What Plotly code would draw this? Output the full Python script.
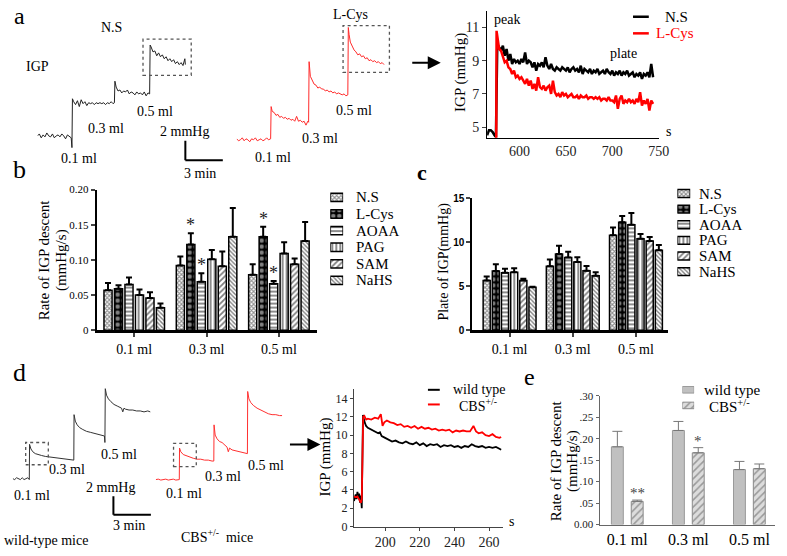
import plotly.graph_objects as go

W, H = 787, 556
SERIF = "Times New Roman, Liberation Serif, DejaVu Serif, serif"
SANS = "Arial, Liberation Sans, DejaVu Sans, sans-serif"

# ---------------- DATA ----------------
# panel a, raw traces (time in min, IGP in mmHg)
A_NS_TRACE = [(0, 0.4), (0.15, 0.6), (0.3, 0.2), (0.45, 0.5), (0.6, 0.3), (0.75, 0.7), (0.9, 0.4), (1.05, 0.3),
              (1.2, 0.6), (1.35, 0.2), (1.5, 0.4), (1.65, 0.5), (1.8, 0.3), (1.95, 0.6), (2.1, 0.4), (2.25, 0.1),
              (2.4, 0.5), (2.55, 0.3), (2.7, 0.2), (2.76, -0.8), (2.8, 4.2), (2.9, 3.9), (3.05, 3.6), (3.2, 4.0),
              (3.35, 3.4), (3.5, 4.1), (3.65, 3.7), (3.8, 3.9), (3.95, 3.5), (4.1, 3.8), (4.25, 3.7), (4.4, 3.8),
              (4.55, 3.6), (4.7, 3.8), (4.85, 3.7), (5.0, 3.8), (5.15, 3.7), (5.3, 3.8), (5.45, 3.6), (5.6, 3.8),
              (5.75, 3.7), (5.9, 3.9), (6.05, 3.7), (6.16, 3.8), (6.2, 6.0), (6.3, 5.4), (6.45, 5.0), (6.6, 5.1),
              (6.75, 4.8), (6.9, 5.0), (7.05, 4.9), (7.2, 5.1), (7.35, 4.7), (7.5, 4.9), (7.65, 4.8), (7.8, 4.6),
              (7.95, 4.9), (8.1, 4.7), (8.25, 4.8), (8.4, 4.6), (8.55, 4.9), (8.7, 4.5), (8.85, 4.8), (8.98, 4.7),
              (9.02, 9.7), (9.1, 9.5), (9.25, 9.0), (9.4, 9.1), (9.55, 8.6), (9.7, 8.9), (9.85, 8.5), (10.0, 8.7),
              (10.15, 8.3), (10.3, 8.5), (10.45, 8.1), (10.6, 8.3), (10.75, 8.0), (10.9, 8.2), (11.05, 7.8),
              (11.2, 8.0), (11.35, 7.7), (11.5, 7.9), (11.65, 7.6), (11.8, 8.3), (11.84, 7.7)]
A_LCYS_TRACE = [(0, 0.1), (0.15, -0.1), (0.3, 0.0), (0.45, 0.2), (0.6, -0.1), (0.75, 0.1), (0.9, 0.0), (1.05, -0.2),
                (1.2, 0.1), (1.35, 0.0), (1.5, 0.2), (1.65, -0.1), (1.8, 0.0), (1.95, 0.1), (2.1, -0.1), (2.25, 0.0),
                (2.4, 0.2), (2.55, 0.0), (2.72, 0.1), (2.76, 3.4), (2.85, 2.9), (3.0, 2.8), (3.15, 2.5), (3.3, 2.6),
                (3.45, 2.3), (3.6, 2.4), (3.75, 2.2), (3.9, 2.3), (4.05, 2.1), (4.2, 2.2), (4.35, 2.0), (4.5, 2.1),
                (4.65, 1.9), (4.8, 2.4), (4.95, 1.9), (5.1, 2.0), (5.25, 1.8), (5.4, 1.9), (5.55, 1.5), (5.7, 1.9),
                (5.76, 1.8), (5.8, 8.0), (5.9, 6.5), (6.05, 6.0), (6.2, 5.7), (6.35, 5.6), (6.5, 5.3), (6.65, 5.4),
                (6.8, 5.2), (6.95, 5.2), (7.1, 5.0), (7.25, 5.1), (7.4, 4.9), (7.55, 5.0), (7.7, 4.8), (7.85, 4.9),
                (8.0, 4.7), (8.15, 4.8), (8.3, 4.7), (8.45, 4.6), (8.6, 4.7), (8.75, 4.5), (8.9, 4.6), (8.94, 11.5),
                (9.0, 10.8), (9.1, 10.0), (9.25, 9.6), (9.4, 9.2), (9.55, 9.0), (9.7, 8.7), (9.85, 8.8), (10.0, 8.5),
                (10.15, 8.6), (10.3, 8.3), (10.45, 8.4), (10.6, 8.1), (10.75, 8.2), (10.9, 8.0), (11.05, 8.1),
                (11.2, 7.9), (11.35, 8.0), (11.5, 7.8), (11.65, 7.9), (11.8, 7.7)]

# panel a, zoomed recording (time in s, IGP in mmHg)
A_NS_T = [565, 567, 569, 571, 573, 574.5, 576,
          578, 580, 582, 584, 586, 588, 590, 592, 594, 596,
          598, 600, 602, 604, 606, 608, 610, 612, 614, 616,
          618, 620, 622, 624, 626, 628, 630, 632, 634, 636,
          638, 640, 642, 644, 646, 648, 650, 652, 654, 656,
          658, 660, 662, 664, 666, 668, 670, 672, 674, 676,
          678, 680, 682, 684, 686, 688, 690, 692, 694, 696,
          698, 700, 702, 704, 706, 708, 710, 712, 714, 716,
          718, 720, 722, 724, 726, 728, 730, 732, 734, 736,
          738, 740, 742, 744]
A_NS_P = [4.5, 4.8, 4.8, 4.7, 4.5, 4.4, 10.0,
          9.8, 9.6, 9.9, 9.3, 9.7, 9.0, 9.4, 8.8, 9.1, 8.9,
          9.0, 8.8, 9.1, 8.9, 9.5, 8.8, 9.0, 8.9, 8.6, 8.9,
          8.4, 8.8, 8.7, 8.9, 8.6, 9.2, 8.7, 8.5, 8.8, 8.5,
          8.4, 8.6, 8.5, 8.4, 8.6, 8.5, 8.4, 8.6, 8.3, 8.5,
          8.6, 8.4, 8.5, 8.3, 8.7, 8.2, 8.5, 8.4, 8.3, 8.5,
          8.2, 8.4, 8.3, 8.5, 8.2, 8.3, 8.4, 8.2, 8.5, 8.3,
          8.2, 8.4, 8.1, 8.3, 8.2, 8.4, 8.1, 8.3, 8.2, 8.4,
          8.1, 8.2, 8.3, 8.0, 8.2, 8.1, 8.3, 7.9, 8.2, 8.1,
          8.3, 8.0, 8.8, 8.0]
A_LCYS_T = [573, 574.8, 575.2, 576, 577, 578,
            580, 582, 584, 586, 588, 590, 592, 594, 596, 598,
            600, 602, 604, 606, 608, 610, 612, 614, 616, 618,
            620, 622, 624, 626, 628, 630, 632, 634, 636, 638,
            640, 642, 644, 646, 648, 650, 652, 654, 656, 658,
            660, 662, 664, 666, 668, 670, 672, 674, 676, 678,
            680, 682, 684, 686, 688, 690, 692, 694, 696, 698,
            700, 702, 704, 706, 708, 710, 712, 714, 716, 718,
            720, 722, 724, 726, 728, 730, 732, 734, 736, 738,
            740, 742, 744]
A_LCYS_P = [3.0, 3.0, 10.8, 10.4, 10.0, 9.7,
            9.6, 9.3, 8.9, 9.0, 8.6, 8.5, 8.2, 8.4, 8.0, 8.1,
            7.9, 8.0, 7.8, 7.6, 7.9, 7.5, 7.8, 7.3, 7.6, 7.2,
            8.0, 7.4, 7.3, 7.5, 7.2, 7.4, 7.5, 7.0, 7.8, 7.1,
            6.9, 7.0, 6.8, 7.1, 6.9, 7.0, 6.8, 6.9, 7.0, 6.8,
            6.8, 6.9, 6.7, 6.9, 6.8, 6.8, 6.9, 6.7, 6.8, 6.8,
            6.7, 6.8, 6.7, 6.8, 6.6, 6.7, 6.7, 6.6, 6.8, 6.6,
            6.6, 6.5, 6.9, 6.1, 6.7, 6.9, 6.4, 6.6, 6.5, 6.7,
            6.5, 6.6, 6.4, 6.7, 6.5, 7.1, 6.3, 6.6, 6.4, 6.7,
            6.0, 6.6, 6.4]

# panel b: rate of IGP descent (mmHg/s), mean and +SEM
GROUPS = ["0.1 ml", "0.3 ml", "0.5 ml"]
SERIES = ["N.S", "L-Cys", "AOAA", "PAG", "SAM", "NaHS"]
B_NS = [0.057, 0.092, 0.079]
B_LCYS = [0.059, 0.122, 0.133]
B_AOAA = [0.065, 0.069, 0.066]
B_PAG = [0.050, 0.101, 0.109]
B_SAM = [0.046, 0.091, 0.094]
B_NAHS = [0.032, 0.133, 0.127]
B_NS_ERR = [0.010, 0.013, 0.015]
B_LCYS_ERR = [0.005, 0.016, 0.014]
B_AOAA_ERR = [0.010, 0.012, 0.004]
B_PAG_ERR = [0.008, 0.013, 0.016]
B_SAM_ERR = [0.008, 0.021, 0.008]
B_NAHS_ERR = [0.006, 0.041, 0.027]
B_STARS = [("L-Cys", 1), ("AOAA", 1), ("L-Cys", 2), ("AOAA", 2)]

# panel c: plate of IGP (mmHg)
C_NS = [5.66, 7.28, 10.8]
C_LCYS = [6.73, 8.68, 12.28]
C_AOAA = [6.54, 8.27, 11.99]
C_PAG = [6.60, 7.76, 10.40]
C_SAM = [5.66, 6.76, 10.15]
C_NAHS = [4.90, 6.20, 9.10]
C_NS_ERR = [0.45, 0.77, 0.90]
C_LCYS_ERR = [0.77, 0.92, 0.72]
C_AOAA_ERR = [0.46, 0.66, 1.36]
C_PAG_ERR = [0.46, 0.54, 0.56]
C_SAM_ERR = [0.19, 0.54, 0.45]
C_NAHS_ERR = [0.05, 0.40, 0.60]

# panel d, raw traces (time in min, IGP in mmHg)
D_WT_TRACE = [(0, 3.0), (0.15, 2.9), (0.3, 3.1), (0.45, 3.0), (0.6, 2.9), (0.75, 3.1), (0.9, 2.9), (1.05, 3.0),
              (1.2, 3.1), (1.32, 2.9), (1.34, 6.7), (1.45, 6.2), (1.6, 5.9), (1.8, 5.7), (2.0, 5.6), (2.3, 5.5),
              (2.6, 5.4), (2.9, 5.35), (3.2, 5.3), (3.5, 5.2), (3.8, 5.2), (4.1, 5.1), (4.4, 5.1), (4.7, 5.0),
              (4.88, 5.0), (4.9, 9.9), (5.0, 9.2), (5.15, 8.8), (5.35, 8.5), (5.6, 8.3), (5.9, 8.1), (6.2, 8.0),
              (6.5, 7.9), (6.8, 7.8), (7.1, 7.7), (7.33, 7.6), (7.37, 6.9), (7.4, 12.7), (7.5, 12.0), (7.65, 11.6),
              (7.85, 11.3), (8.1, 11.0), (8.4, 10.8), (8.7, 10.6), (8.8, 10.2), (8.9, 10.6), (9.0, 10.5),
              (9.3, 10.4), (9.6, 10.4), (9.9, 10.3), (10.2, 10.3), (10.5, 10.2), (10.8, 10.3), (11.0, 10.2)]
D_CBS_TRACE = [(0, 2.9), (0.2, 2.95), (0.4, 2.85), (0.6, 2.9), (0.8, 2.95), (1.0, 2.85), (1.2, 2.9), (1.4, 2.95),
               (1.6, 2.85), (1.88, 2.9), (1.9, 6.3), (2.0, 5.9), (2.2, 5.6), (2.4, 5.5), (2.7, 5.3), (3.0, 5.2),
               (3.3, 5.1), (3.6, 5.1), (3.9, 5.0), (4.2, 5.0), (4.5, 4.9), (4.64, 4.9), (4.66, 8.8), (4.75, 7.7),
               (4.9, 7.3), (5.1, 7.0), (5.3, 6.9), (5.5, 6.6), (5.7, 6.4), (5.8, 5.9), (5.9, 6.3), (6.1, 6.1),
               (6.4, 6.0), (6.7, 5.9), (7.0, 5.8), (7.33, 5.7), (7.35, 12.4), (7.45, 11.6), (7.6, 11.2),
               (7.8, 10.9), (8.1, 10.6), (8.4, 10.4), (8.7, 10.2), (9.0, 10.0), (9.3, 9.9), (9.6, 9.9),
               (9.9, 9.8), (10.1, 9.8)]

# panel d, zoomed recording (time in s, IGP in mmHg)
D_WT_T = [182, 183, 183.5, 184, 184.5, 185, 185.5, 186, 186.5, 187.2,
          188, 189, 190, 192, 194, 196, 197, 198, 200, 202,
          204, 206, 208, 210, 212, 214, 216, 218, 220, 222,
          224, 226, 228, 230, 232, 234, 236, 238, 240, 242,
          244, 246, 248, 250, 252, 254, 256, 258, 260, 262,
          264, 266, 267]
D_WT_P = [2.8, 3.5, 3.0, 3.8, 3.2, 3.6, 2.6, 3.4, 2.0, 12.2,
          11.5, 11.0, 10.8, 10.6, 10.4, 10.2, 10.3, 9.9, 9.7, 9.5,
          9.3, 9.4, 9.2, 9.1, 9.3, 9.1, 9.0, 9.2, 8.9, 9.1,
          8.8, 9.0, 8.9, 9.0, 8.7, 8.9, 8.8, 8.9, 8.7, 8.8,
          8.6, 8.8, 8.7, 9.0, 8.8, 8.7, 8.8, 8.6, 8.7, 8.6,
          8.7, 8.5, 8.4]
D_CBS_T = [182, 183, 184, 185, 186, 186.5, 187.3, 188, 189, 190,
           192, 194, 196, 197.5, 198.5, 199.5, 201, 203, 205, 207,
           209, 211, 213, 215, 217, 219, 221, 223, 225, 227,
           229, 231, 233, 235, 237, 239, 241, 243, 245, 247,
           249, 251, 252.5, 254, 256, 258, 260, 262, 264, 266,
           267]
D_CBS_P = [3.3, 3.2, 3.3, 2.9, 2.6, 3.0, 12.0, 12.1, 11.7, 11.8,
           11.7, 11.9, 11.8, 12.3, 11.0, 11.4, 11.6, 11.4, 11.3, 11.1,
           11.2, 10.9, 11.0, 10.8, 11.0, 10.7, 10.9, 10.7, 10.8, 10.6,
           10.7, 10.5, 10.6, 10.5, 10.6, 10.3, 10.5, 10.4, 10.5, 10.4,
           10.4, 11.0, 10.4, 10.2, 10.3, 10.0, 9.9, 10.1, 9.8, 9.7,
           9.8]

# panel e: rate of IGP descent (mmHg/s)
E_GROUPS = ["wild type", "CBS<sup>+/-</sup>"]
E_WT = [0.181, 0.219, 0.128]
E_CBS = [0.054, 0.167, 0.130]
E_WT_ERR = [0.036, 0.021, 0.019]
E_CBS_ERR = [0.003, 0.012, 0.011]

SCALE_MIN, SCALE_MMHG = 3, 2

# ---------------- helpers ----------------
def xd(l, r):
    return [l / W, r / W]

def yd(t, b):
    return [1 - b / H, 1 - t / H]

def PX(x):
    return x / W

def PY(y):
    return 1 - y / H

fig = go.Figure()

def line(pairs, color, xa, ya, width=1):
    fig.add_trace(go.Scatter(x=[p[0] for p in pairs], y=[p[1] for p in pairs], mode="lines",
                             line=dict(color=color, width=width), xaxis=xa, yaxis=ya,
                             showlegend=False, hoverinfo="skip"))

# traces panel a
line(A_NS_TRACE, "#222222", "x6", "y6", 1)
line(A_LCYS_TRACE, "#ff2a2a", "x7", "y6", 1)
# traces panel d
line(D_WT_TRACE, "#333333", "x8", "y8", 1)
line(D_CBS_TRACE, "#ff3030", "x9", "y8", 1)

# a zoom chart
fig.add_trace(go.Scatter(x=A_NS_T, y=A_NS_P, mode="lines", line=dict(color="black", width=2.5),
                         xaxis="x", yaxis="y", showlegend=False))
fig.add_trace(go.Scatter(x=A_LCYS_T, y=A_LCYS_P, mode="lines", line=dict(color="#ff0000", width=2.5),
                         xaxis="x", yaxis="y", showlegend=False))
# d zoom chart
fig.add_trace(go.Scatter(x=D_WT_T, y=D_WT_P, mode="lines", line=dict(color="black", width=1.8),
                         xaxis="x4", yaxis="y4", showlegend=False))
fig.add_trace(go.Scatter(x=D_CBS_T, y=D_CBS_P, mode="lines", line=dict(color="#ff0000", width=1.8),
                         xaxis="x4", yaxis="y4", showlegend=False))

PATTERNS = [
    dict(shape="x", size=3, solidity=0.6, fgcolor="#222", bgcolor="white"),
    dict(shape=".", size=6, solidity=0.45, fgcolor="white", bgcolor="black"),
    dict(shape="-", size=4, solidity=0.45, fgcolor="black", bgcolor="white"),
    dict(shape="|", size=4, solidity=0.45, fgcolor="black", bgcolor="white"),
    dict(shape="/", size=4, solidity=0.45, fgcolor="black", bgcolor="white"),
    dict(shape="\\", size=3, solidity=0.45, fgcolor="black", bgcolor="white"),
]
SLOT, BW = 0.145, 0.112

def offset_of(i):
    return (i - 3) * SLOT + (SLOT - BW) / 2

B_VALS = [B_NS, B_LCYS, B_AOAA, B_PAG, B_SAM, B_NAHS]
B_ERRS = [B_NS_ERR, B_LCYS_ERR, B_AOAA_ERR, B_PAG_ERR, B_SAM_ERR, B_NAHS_ERR]
C_VALS = [C_NS, C_LCYS, C_AOAA, C_PAG, C_SAM, C_NAHS]
C_ERRS = [C_NS_ERR, C_LCYS_ERR, C_AOAA_ERR, C_PAG_ERR, C_SAM_ERR, C_NAHS_ERR]

for i, name in enumerate(SERIES):
    for vals, errs, xa, ya in [(B_VALS[i], B_ERRS[i], "x2", "y2"), (C_VALS[i], C_ERRS[i], "x3", "y3")]:
        fig.add_trace(go.Bar(
            x=GROUPS, y=vals, name=name, xaxis=xa, yaxis=ya, showlegend=False,
            width=BW, offset=offset_of(i),
            marker=dict(pattern=PATTERNS[i], color="white", line=dict(color="black", width=1.5)),
            error_y=dict(type="data", symmetric=False, array=errs, arrayminus=[0, 0, 0],
                         color="black", thickness=2, width=3),
        ))
    # legend keys (one swatch per series, for panels b and c)
    for xa, ya in [("x10", "y10"), ("x11", "y11")]:
        fig.add_trace(go.Bar(x=[1], y=[name], orientation="h", xaxis=xa, yaxis=ya, width=0.5,
                             showlegend=False, hoverinfo="skip",
                             marker=dict(pattern=PATTERNS[i], color="white",
                                         line=dict(color="black", width=1.5))))

EW = 0.195
E_WT_MARKER = dict(color="#c0c0c0", line=dict(color="#9a9a9a", width=1))
E_CBS_MARKER = dict(color="#d9d9d9",
                    pattern=dict(shape="/", size=5, solidity=0.3, fgcolor="#555555", bgcolor="#dcdcdc"),
                    line=dict(color="#8a8a8a", width=1))
fig.add_trace(go.Bar(x=GROUPS, y=E_WT, name=E_GROUPS[0], xaxis="x5", yaxis="y5", showlegend=False,
                     width=EW, offset=-0.26, marker=E_WT_MARKER,
                     error_y=dict(type="data", symmetric=False, array=E_WT_ERR, arrayminus=[0, 0, 0],
                                  color="#777777", thickness=1, width=5)))
fig.add_trace(go.Bar(x=GROUPS, y=E_CBS, name=E_GROUPS[1], xaxis="x5", yaxis="y5", showlegend=False,
                     width=EW, offset=0.065, marker=E_CBS_MARKER,
                     error_y=dict(type="data", symmetric=False, array=E_CBS_ERR, arrayminus=[0, 0, 0],
                                  color="#777777", thickness=1, width=5)))
for nm, mk in zip(E_GROUPS, [E_WT_MARKER, E_CBS_MARKER]):
    fig.add_trace(go.Bar(x=[1], y=[nm], orientation="h", xaxis="x12", yaxis="y12", width=0.42,
                         showlegend=False, hoverinfo="skip", marker=mk))

# ---------------- axes ----------------
hidden = dict(visible=False, showgrid=False, zeroline=False, fixedrange=True)
ax_common = dict(showgrid=False, zeroline=False, showline=True, linecolor="black", mirror=False)

layout = dict(
    width=W, height=H, margin=dict(l=0, r=0, t=0, b=0),
    paper_bgcolor="white", plot_bgcolor="rgba(0,0,0,0)",
    barmode="overlay", showlegend=False,
    font=dict(family=SERIF, color="black"),
)

# a zoom chart
layout["xaxis"] = dict(ax_common, domain=xd(494, 668), range=[565, 750], anchor="y", linewidth=1,
                       ticks="", tickvals=[600, 650, 700, 750],
                       tickfont=dict(family=SERIF, size=14, color="#222"))
layout["yaxis"] = dict(ax_common, domain=yd(5, 135), range=[4.35, 12.0], anchor="x", linewidth=1,
                       ticks="outside", ticklen=4, tickvals=[5, 7, 9, 11],
                       tickfont=dict(family=SERIF, size=14, color="#222"))
# b
layout["xaxis2"] = dict(ax_common, domain=xd(98, 321), range=[-0.52, 2.52], anchor="y2", type="category",
                        linewidth=2.5, ticks="outside", ticklen=4, tickwidth=2,
                        tickfont=dict(family=SERIF, size=14, color="black"))
layout["yaxis2"] = dict(ax_common, domain=yd(188, 332), range=[0, 0.2], anchor="x2", linewidth=2,
                        ticks="outside", ticklen=4, tickwidth=1.5,
                        tickvals=[0, 0.05, 0.10, 0.15, 0.20], ticktext=["0", "0.05", "0.10", "0.15", "0.20"],
                        tickfont=dict(family=SERIF, size=11, color="black"))
# c
layout["xaxis3"] = dict(ax_common, domain=xd(479, 677), range=[-0.59, 2.5], anchor="y3", type="category",
                        linewidth=2.5, ticks="outside", ticklen=4, tickwidth=2,
                        tickfont=dict(family=SERIF, size=14, color="black"))
layout["yaxis3"] = dict(ax_common, domain=yd(197, 332), range=[0, 15], anchor="x3", linewidth=2,
                        ticks="outside", ticklen=4, tickwidth=1.5, tickvals=[0, 5, 10, 15],
                        tickfont=dict(family=SANS, size=10, color="black", weight="bold"))
# d zoom chart
layout["xaxis4"] = dict(ax_common, domain=xd(359, 510), range=[182, 268], anchor="y4", linewidth=1,
                        linecolor="#444", ticks="outside", ticklen=3, tickvals=[200, 220, 240, 260],
                        tickfont=dict(family=SERIF, size=14, color="#222"))
layout["yaxis4"] = dict(ax_common, domain=yd(392, 533), range=[0, 15.06], anchor="x4", linewidth=1,
                        linecolor="#444", ticks="outside", ticklen=3, tickvals=[0, 2, 4, 6, 8, 10, 12, 14],
                        tickfont=dict(family=SERIF, size=12, color="#222"))
# e
layout["xaxis5"] = dict(ax_common, domain=xd(608, 786), range=[-0.455, 2.42], anchor="y5", type="category",
                        linewidth=1, linecolor="#666", ticks="",
                        tickfont=dict(family=SERIF, size=16, color="black"))
layout["yaxis5"] = dict(ax_common, domain=yd(399, 531), range=[0, 0.30], anchor="x5", linewidth=1,
                        linecolor="#666", ticks="outside", ticklen=3, tickcolor="#666",
                        tickvals=[0, 0.05, 0.10, 0.15, 0.20, 0.25, 0.30],
                        ticktext=["0.00", ".05", ".10", ".15", ".20", ".25", ".30"],
                        tickfont=dict(family=SERIF, size=11, color="#222"))
# hidden trace axes
layout["xaxis6"] = dict(hidden, domain=xd(38, 228), range=[0, 15.0], anchor="y6")
layout["yaxis6"] = dict(hidden, domain=yd(0, 170), range=[-3.3, 13.7], anchor="x6")
layout["xaxis7"] = dict(hidden, domain=xd(240, 400), range=[0, 12.63], anchor="y6")
layout["xaxis8"] = dict(hidden, domain=xd(13, 160), range=[0, 11.6], anchor="y8")
layout["yaxis8"] = dict(hidden, domain=yd(370, 556), range=[-4.58, 15.0], anchor="x8")
layout["xaxis9"] = dict(hidden, domain=xd(158, 300), range=[0, 11.2], anchor="y8")
# hidden legend-key axes
layout["xaxis10"] = dict(hidden, domain=xd(335, 348), range=[0, 1], anchor="y10")
layout["yaxis10"] = dict(hidden, domain=yd(187.5, 289.5), type="category", categoryarray=SERIES,
                         autorange="reversed", anchor="x10")
layout["xaxis11"] = dict(hidden, domain=xd(687, 700), range=[0, 1], anchor="y11")
layout["yaxis11"] = dict(hidden, domain=yd(184, 280), type="category", categoryarray=SERIES,
                         autorange="reversed", anchor="x11")
layout["xaxis12"] = dict(hidden, domain=xd(692, 704), range=[0, 1], anchor="y12")
layout["yaxis12"] = dict(hidden, domain=yd(385, 417), type="category", categoryarray=E_GROUPS,
                         autorange="reversed", anchor="x12")

fig.update_layout(**layout)

# ---------------- shapes ----------------
shapes = []
def seg(xref, yref, x0, y0, x1, y1, color="black", width=2, dash="solid"):
    shapes.append(dict(type="line", xref=xref, yref=yref, x0=x0, y0=y0, x1=x1, y1=y1,
                       line=dict(color=color, width=width, dash=dash)))

def box(xref, yref, x0, y0, x1, y1):
    shapes.append(dict(type="rect", xref=xref, yref=yref, x0=x0, y0=y0, x1=x1, y1=y1,
                       line=dict(color="#555", width=1.3, dash="dot")))

# scale bars
a_sx, a_sy = 11.84, -2.1
seg("x6", "y6", a_sx, a_sy, a_sx, a_sy + SCALE_MMHG)
seg("x6", "y6", a_sx, a_sy, a_sx + SCALE_MIN, a_sy)
d_sx, d_sy = 8.05, -0.9
seg("x8", "y8", d_sx, d_sy, d_sx, d_sy + SCALE_MMHG)
seg("x8", "y8", d_sx, d_sy, d_sx + SCALE_MIN, d_sy)
# zoom boxes
box("x6", "y6", 8.45, 6.6, 12.31, 10.3)
box("x7", "y6", 8.52, 6.9, 12.23, 11.7)
box("x8", "y8", 1.03, 4.5, 2.84, 6.9)
box("x9", "y8", 1.42, 4.3, 3.24, 6.8)
# line legends
seg("paper", "paper", PX(642), PY(11), PX(658), PY(11), "black", 2.5)
seg("paper", "paper", PX(642), PY(28), PX(658), PY(28), "#ff0000", 2.5)
seg("paper", "paper", PX(434), PY(393), PX(446), PY(393), "black", 2)
seg("paper", "paper", PX(434), PY(408), PX(446), PY(408), "#ff0000", 2)
fig.update_layout(shapes=shapes)

# ---------------- annotations ----------------
ann = []
def txt(x, y, s, size=14, color="black", family=SERIF, angle=0, xanchor="center", bold=False):
    ann.append(dict(xref="paper", yref="paper", x=PX(x), y=PY(y), text=s, showarrow=False,
                    xanchor=xanchor, yanchor="middle", textangle=angle,
                    font=dict(family=family, size=size, color=color, weight="bold" if bold else "normal")))

txt(20, 10, "a", 24)
txt(20, 167, "b", 26)
txt(428, 170, "c", 22, bold=True)
txt(20, 375, "d", 26)
txt(537, 380, "e", 24)

txt(113, 22, "N.S", 14)
txt(38, 62, "IGP", 14)
txt(355, 9, "L-Cys", 14)
txt(80, 156, "0.1 ml", 14)
txt(108, 125, "0.3 ml", 14)
txt(157, 108, "0.5 ml", 14)
txt(277, 155, "0.1 ml", 14)
txt(325, 136, "0.3 ml", 14)
txt(359, 107, "0.5 ml", 14)
txt(187, 128, "2 mmHg", 14)
txt(203, 172, "3 min", 14)

txt(514, 14, "peak", 14)
txt(632, 49, "plate", 14)
txt(678, 128, "s", 14)
txt(467, 68, "IGP (mmHg)", 15, angle=-90)
txt(672, 11, "N.S", 15, xanchor="left")
txt(663, 28, "L-Cys", 15, "#ff0000", xanchor="left")

txt(45, 260, "Rate of IGP descent", 15, angle=-90)
txt(63, 260, "(mmHg/s)", 15, angle=-90)
txt(450, 262, "Plate of IGP(mmHg)", 14, angle=-90)

# legend labels b and c
for name, yb, yc in zip(SERIES, [196, 213, 230, 247, 264, 281], [192, 208, 224, 240, 256, 272]):
    txt(359, yb, name, 15, xanchor="left")
    txt(707, yc, name, 15, xanchor="left")

txt(32, 501, "0.1 ml", 14)
txt(68, 475, "0.3 ml", 14)
txt(121, 459, "0.5 ml", 14)
txt(187, 499, "0.1 ml", 14)
txt(226, 482, "0.3 ml", 14)
txt(270, 470, "0.5 ml", 14)
txt(112, 493, "2 mmHg", 14)
txt(131, 532, "3 min", 14)
txt(47, 547, "wild-type mice", 14)
txt(220, 543, "CBS<sup>+/-</sup>  mice", 14)

txt(330, 462, "IGP (mmHg)", 15, angle=-90)
txt(519, 528, "s", 14)
txt(457, 393, "wild type", 14, xanchor="left")
txt(463, 409, "CBS<sup>+/-</sup>", 14, xanchor="left")

txt(564, 466, "Rate of IGP descent", 15, angle=-90)
txt(580, 466, "(mmHg/s)", 15, angle=-90)
txt(712, 393, E_GROUPS[0], 15, xanchor="left")
txt(717, 410, E_GROUPS[1], 15, xanchor="left")

# arrows
for (x0, x1, y) in [(417, 447, 58), (293, 325, 449)]:
    ann.append(dict(xref="paper", yref="paper", x=PX(x1), y=PY(y), ax=x0 - x1, ay=0, text="",
                    showarrow=True, arrowhead=2, arrowsize=1.3, arrowwidth=2, arrowcolor="black"))

# asterisks panel b
for name, gi in B_STARS:
    i = SERIES.index(name)
    ann.append(dict(xref="x2", yref="y2", x=gi + offset_of(i) + BW / 2, y=B_VALS[i][gi] + B_ERRS[i][gi],
                    text="*", showarrow=False, yanchor="bottom", yshift=-4,
                    font=dict(family=SERIF, size=18, color="#222")))
# asterisks panel e
for gi, s in [(0, "**"), (1, "*")]:
    ann.append(dict(xref="x5", yref="y5", x=gi + 0.065 + EW / 2, y=E_CBS[gi] + E_CBS_ERR[gi],
                    text=s, showarrow=False, yanchor="bottom", yshift=-3,
                    font=dict(family=SERIF, size=15, color="#444")))

fig.update_layout(annotations=ann)

fig.write_html("out.html", config={"displayModeBar": False},
               post_script="document.body.style.margin='0px';document.body.style.overflow='hidden';")
